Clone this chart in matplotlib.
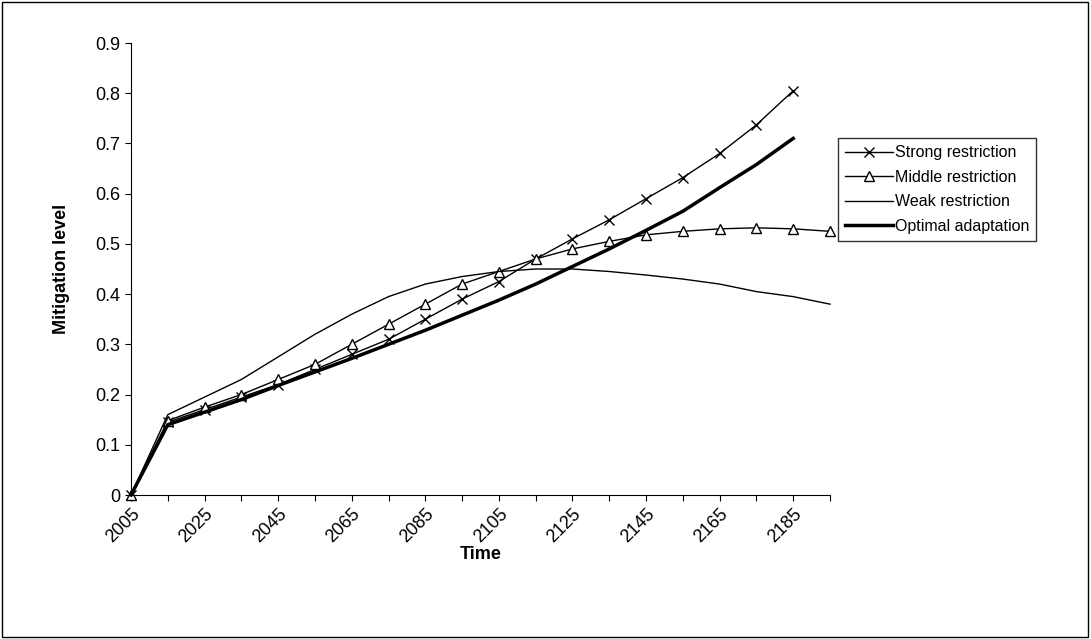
import matplotlib.pyplot as plt
import numpy as np

years = list(range(2005, 2196, 10))
strong = [0, 0.145, 0.17, 0.195, 0.22, 0.25, 0.28, 0.31, 0.35, 0.39, 0.425, 0.47,
          0.51, 0.548, 0.59, 0.632, 0.68, 0.737, 0.805]
middle = [0, 0.148, 0.175, 0.2, 0.23, 0.26, 0.30, 0.34, 0.38, 0.42, 0.445, 0.47,
          0.49, 0.505, 0.518, 0.525, 0.53, 0.532, 0.53, 0.525]
weak = [0, 0.16, 0.195, 0.23, 0.275, 0.32, 0.36, 0.395, 0.42, 0.435, 0.445, 0.45,
        0.45, 0.445, 0.438, 0.43, 0.42, 0.405, 0.395, 0.38]
optimal = [0, 0.14, 0.165, 0.19, 0.218, 0.245, 0.272, 0.3, 0.328, 0.358, 0.388, 0.42,
           0.455, 0.49, 0.527, 0.565, 0.612, 0.658, 0.71]

plt.rcParams['font.family'] = ['Liberation Sans', 'DejaVu Sans']
fig = plt.figure(figsize=(10.91, 6.39), dpi=100)
fig.patches.append(plt.Rectangle((0.002, 0.003), 0.995, 0.994, transform=fig.transFigure,
                                 fill=False, edgecolor='black', linewidth=1))
ax = fig.add_axes([131 / 1091, 1 - 495 / 639, (830 - 131) / 1091, (495 - 43) / 639])

ax.plot(years[:len(strong)], strong, color='black', lw=1, marker='x', ms=7, label='Strong restriction', clip_on=False)
ax.plot(years, middle, color='black', lw=1, marker='^', ms=7, mfc='white', label='Middle restriction', clip_on=False)
ax.plot(years, weak, color='black', lw=1, label='Weak restriction', clip_on=False)
ax.plot(years[:len(optimal)], optimal, color='black', lw=2.5, label='Optimal adaptation', clip_on=False)

ax.set_xlim(2005, 2195)
ax.set_ylim(0, 0.9)
ax.set_xticks(years)
ax.set_xticklabels([str(y) if i % 2 == 0 else '' for i, y in enumerate(years)],
                   rotation=45, ha='right', rotation_mode='anchor', fontsize=13)
ax.set_yticks(np.arange(0, 0.91, 0.1))
ax.set_yticklabels(['0'] + ['%.1f' % v for v in np.arange(0.1, 0.91, 0.1)], fontsize=13)
ax.tick_params(direction='out', length=4)
for s in ['top', 'right']:
    ax.spines[s].set_visible(False)
ax.set_xlabel('Time', fontsize=13, fontweight='bold', labelpad=0)
ax.set_ylabel('Mitigation level', fontsize=13, fontweight='bold', labelpad=18)

fig.legend(loc='upper left', bbox_to_anchor=(838 / 1091, 1 - 138 / 639), fontsize=11.5,
           frameon=True, fancybox=False, edgecolor='black', borderaxespad=0,
           handlelength=3.0, handletextpad=0.1, borderpad=0.45, labelspacing=0.6)
fig.savefig('out.png', dpi=100)
